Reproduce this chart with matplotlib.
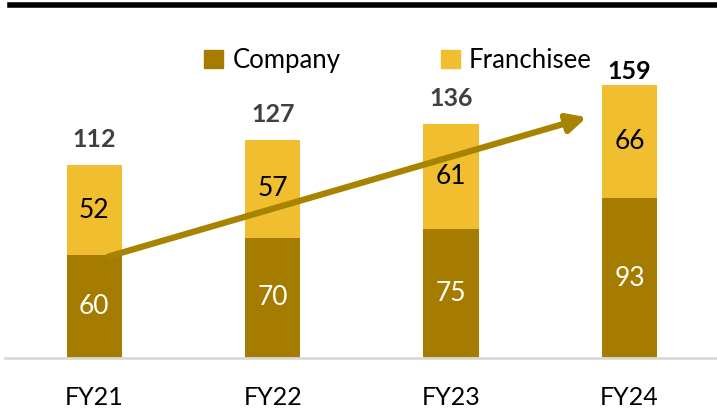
import matplotlib.pyplot as plt
from matplotlib.lines import Line2D
from matplotlib.patches import Patch

years = ['FY21', 'FY22', 'FY23', 'FY24']
company = [60, 70, 75, 93]
franchisee = [52, 57, 61, 66]
totals = [112, 127, 136, 159]

c_company = '#A67C00'
c_franch = '#F0BE2E'

plt.rcParams['font.family'] = ['Lato', 'DejaVu Sans']

fig = plt.figure(figsize=(7.17, 4.11), dpi=100)
ax = fig.add_axes([0.007, 0.129, 0.993, 0.795])

x = range(len(years))
ax.bar(x, company, width=0.31, color=c_company, edgecolor='none')
ax.bar(x, franchisee, width=0.31, bottom=company, color=c_franch, edgecolor='none')

for i in x:
    ax.text(i, company[i] / 2, str(company[i]), ha='center', va='center',
            color='white', fontsize=19)
    ax.text(i, company[i] + franchisee[i] / 2, str(franchisee[i]), ha='center',
            va='center', color='black', fontsize=19)
    # last total sits right on top of its bar, as in the source
    last = i == len(years) - 1
    ax.annotate(str(totals[i]), (i, totals[i]), xytext=(0, 1 if last else 10),
                textcoords='offset points', ha='center', va='bottom',
                fontsize=18, fontweight='bold',
                color='black' if last else '#404040')

# growth arrow
ax.annotate('', xy=(2.76, 140), xytext=(0.08, 59),
            arrowprops=dict(arrowstyle='-|>', lw=4.5, color='#A88300',
                            mutation_scale=28, shrinkA=0, shrinkB=0))

ax.set_xlim(-0.5, 3.49)
ax.set_ylim(0, 190)
ax.set_xticks(list(x))
ax.set_xticklabels(years, fontsize=18)
ax.tick_params(axis='x', length=0, pad=20)
ax.set_yticks([])
for s in ['top', 'right', 'left']:
    ax.spines[s].set_visible(False)
ax.spines['bottom'].set_color('#D9D9D9')
ax.spines['bottom'].set_linewidth(2)

# thick rule at the top
fig.add_artist(Line2D([0.014, 1.0], [0.988, 0.988], color='black', lw=4))

handles = [Patch(color=c_company, label='Company'),
           Patch(color=c_franch, label='Franchisee')]
fig.legend(handles=handles, loc='center', bbox_to_anchor=(0.555, 0.853),
           ncol=2, frameon=False, fontsize=18.5, handlelength=0.75,
           handleheight=0.75, handletextpad=0.35, columnspacing=3.9)

fig.savefig('out.png', dpi=100)
